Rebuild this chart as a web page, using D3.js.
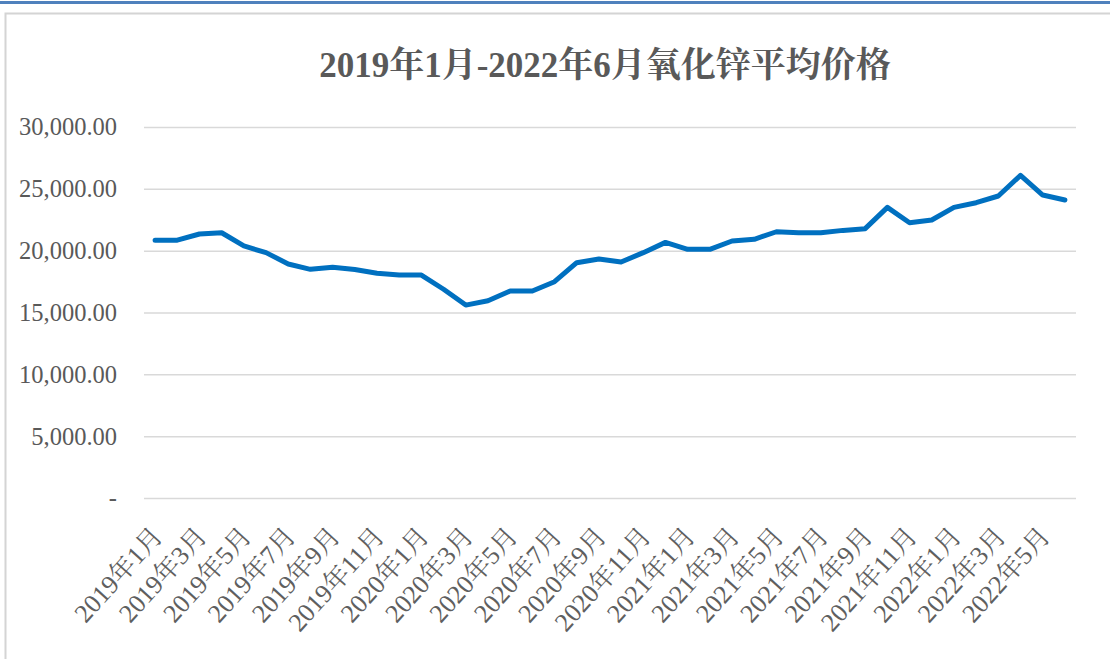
<!DOCTYPE html>
<html><head><meta charset="utf-8">
<script src="https://cdn.jsdelivr.net/npm/d3@7"></script>
<style>body{margin:0;background:#fff;overflow:hidden}</style>
</head><body>
<svg id="c" width="1110" height="659"></svg>
<script>
const titleText = "2019年1月-2022年6月氧化锌平均价格";
const years = [2019, 2020, 2021, 2022];
const categories = [];
years.forEach(y => { for (let m = 1; m <= 12; m++) { if (y === 2022 && m > 6) break; categories.push(y + "年" + m + "月"); } });
const prices = [20850, 20850, 21350, 21450, 20380, 19840, 18920, 18490, 18650, 18470,
  18170, 18030, 18030, 16880, 15600, 15950, 16740, 16740, 17490, 19030,
  19330, 19080, 19840, 20670, 20110, 20110, 20780, 20920, 21530, 21450,
  21450, 21640, 21780, 23500, 22260, 22480, 23500, 23880, 24420, 26090,
  24500, 24100];
const yTicks = [0, 5000, 10000, 15000, 20000, 25000, 30000];

const svg = d3.select("#c");
// frame
svg.append("rect").attr("x", 0).attr("y", 1).attr("width", 1110).attr("height", 3).attr("fill", "#4f81bd");
svg.append("rect").attr("x", 5.5).attr("y", 13.5).attr("width", 1110).attr("height", 700)
  .attr("fill", "#fff").attr("stroke", "#d4d4d4").attr("stroke-width", 2);

const L = 144, R = 1076, T = 127, B = 498;
const x = d3.scaleBand().domain(categories).range([L, R]);
const y = d3.scaleLinear().domain([0, 30000]).range([B, T]);

svg.append("text").attr("x", 605).attr("y", 77).attr("text-anchor", "middle")
  .attr("font-family", "'Liberation Serif','Noto Serif CJK SC','Noto Sans CJK SC',serif")
  .attr("font-weight", "bold").attr("font-size", 35).attr("fill", "#595959").text(titleText);

// grid
const yAxis = d3.axisLeft(y).tickValues(yTicks).tickSize(-(R - L)).tickPadding(27)
  .tickFormat(d => d === 0 ? "-" : d3.format(",.2f")(d));
const gy = svg.append("g").attr("transform", `translate(${L},0)`).call(yAxis);
gy.select(".domain").remove();
gy.selectAll(".tick line").attr("stroke", "#d9d9d9").attr("stroke-width", 1.5);
gy.selectAll(".tick text").attr("font-family", "'Liberation Serif',serif").attr("font-size", 24.5)
  .attr("fill", "#595959");

// x labels
const xAxis = d3.axisBottom(x).tickSize(0).tickValues(categories.filter((d, i) => i % 2 === 0));
const gx = svg.append("g").attr("transform", `translate(0,${B})`).call(xAxis);
gx.select(".domain").remove();
gx.selectAll(".tick text")
  .attr("font-family", "'Liberation Serif','Noto Serif CJK SC','Noto Sans CJK SC',serif")
  .attr("font-size", 26).attr("fill", "#5f5f5f")
  .attr("text-anchor", "end").attr("dy", null).attr("y", 0)
  .attr("transform", "translate(9,39) rotate(-48)");

const line = d3.line().x((d, i) => x(categories[i]) + x.bandwidth() / 2).y(d => y(d));
svg.append("path").datum(prices).attr("d", line).attr("fill", "none")
  .attr("stroke", "#0070c0").attr("stroke-width", 5).attr("stroke-linejoin", "round").attr("stroke-linecap", "round");
</script>
</body></html>
